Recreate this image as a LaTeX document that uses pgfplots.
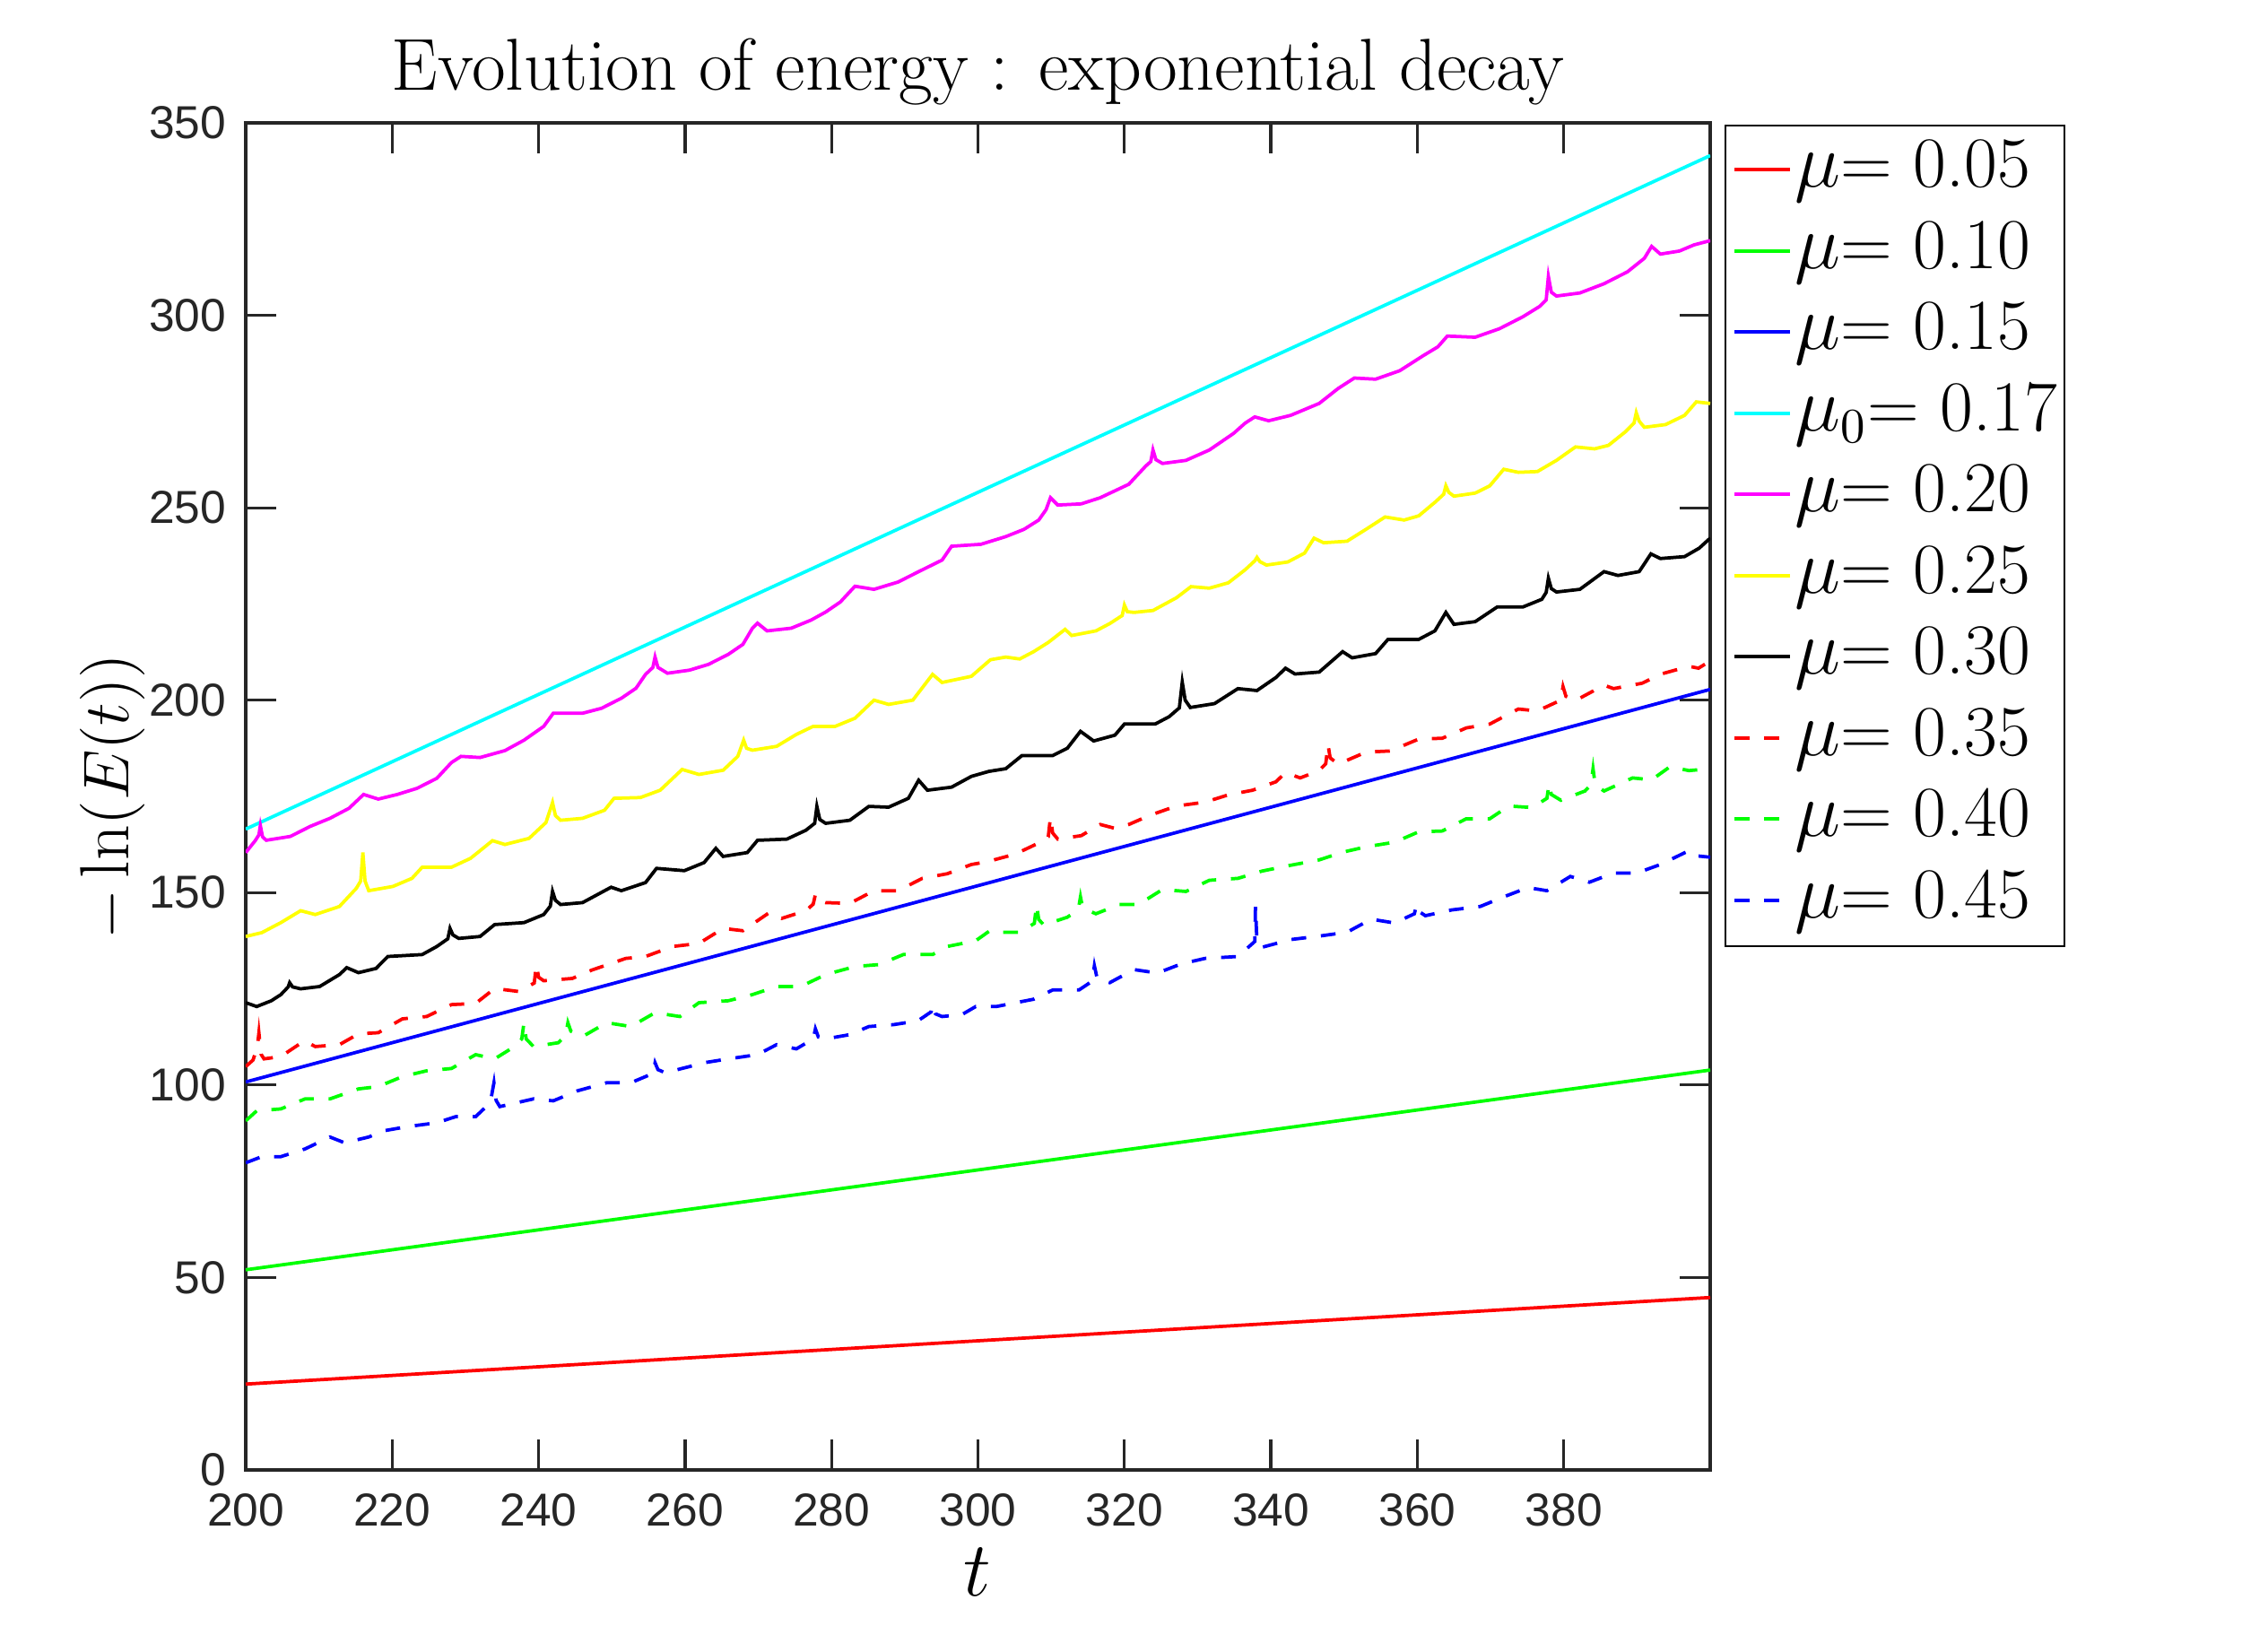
\documentclass[border=0pt]{standalone}
\usepackage{fontspec}
\usepackage{pgfplots}
\pgfplotsset{compat=1.18}
\newfontfamily\tickfont{Liberation Sans}
\definecolor{axgray}{gray}{0.15}
\definecolor{mred}{rgb}{1,0,0}
\definecolor{mgreen}{rgb}{0,1,0}
\definecolor{mblue}{rgb}{0,0,1}
\definecolor{mcyan}{rgb}{0,1,1}
\definecolor{mmagenta}{rgb}{1,0,1}
\definecolor{myellow}{rgb}{1,1,0}
\definecolor{mblack}{rgb}{0,0,0}
\begin{document}
\begin{tikzpicture}
\useasboundingbox (-54.8pt,-40.6pt) rectangle (445.2pt,327.8pt);
\begin{axis}[
  at={(0,0)}, anchor=south west,
  scale only axis, width=326.6pt, height=300.4pt,
  xmin=200, xmax=400, ymin=0, ymax=350,
  xtick={200,220,...,380}, ytick={0,50,...,350},
  tick align=inside, major tick length=6.8pt,
  axis line style={axgray, line width=0.65pt},
  every tick/.style={axgray, line width=0.65pt},
  /pgf/number format/assume math mode=true,
  tick label style={font=\tickfont\fontsize{10.3}{12}\selectfont, text=axgray},
  xticklabel style={anchor=north, inner sep=0pt, yshift=-5.2pt},
  yticklabel style={anchor=east, inner sep=0pt, xshift=-4.2pt},
  title={Evolution of energy : exponential decay},
  title style={font=\fontsize{16.4}{19}\selectfont, at={(axis description cs:0.5,1.0046)}, anchor=base, inner sep=0pt},
  xlabel={$t$},
  xlabel style={font=\fontsize{16}{19}\selectfont, at={(axis description cs:0.4995,-0.0756)}, anchor=center, inner sep=0pt},
  ylabel={$-\ln(E(t))$},
  ylabel style={font=\fontsize{15.5}{18}\selectfont, at={(axis description cs:-0.0912,0.5)}, anchor=center, inner sep=0pt},
  legend style={at={(axis description cs:1,1)}, anchor=north west, xshift=3.2pt, yshift=-0.4pt,
    draw=black, line width=0.4pt, inner xsep=1.7pt, inner ysep=2.3pt,
    font=\fontsize{16}{19}\selectfont, row sep=2.6pt, column sep=0.7pt,
    nodes={inner sep=0pt, text height=11.5pt, text depth=4pt}},
  legend cell align=left,
  legend image code/.code={\draw[#1] (0pt,0.2pt) -- (12.3pt,0.2pt);},
  every axis plot/.append style={line width=0.75pt},
]
\addplot[mred] coordinates {(200,22.3) (400,44.8)};
\addlegendentry{$\mu$= 0.05}
\addplot[mgreen] coordinates {(200,52.0) (400,103.9)};
\addlegendentry{$\mu$= 0.10}
\addplot[mblue] coordinates {(200,100.8) (400,202.8)};
\addlegendentry{$\mu$= 0.15}
\addplot[mcyan] coordinates {(200,166.5) (400,341.5)};
\addlegendentry{$\mu_0$= 0.17}
\addplot[mmagenta] table {
200.0 160.4
201.3 163.5
201.8 165
202.0 167.4
202.3 164.5
202.8 163.6
206.1 164.6
208.8 167.2
211.5 169.3
214.1 171.9
216.1 175.5
218.1 174.3
220.7 175.5
223.4 177.1
226.1 179.7
228.1 183.8
229.4 185.4
232.0 185.1
235.4 186.9
238.0 189.6
240.7 193.2
242.0 196.6
246.0 196.6
248.6 197.9
251.3 200.5
253.3 203.1
254.6 206.7
255.6 208.5
255.9 211.2
256.3 208.5
257.6 207.0
260.6 207.8
263.2 209.3
265.9 211.9
267.9 214.5
269.2 218.7
269.9 220.0
271.2 218.0
274.5 218.7
277.2 220.8
279.2 222.9
281.2 225.5
283.2 229.6
285.8 228.8
289.1 230.7
291.8 233.3
295.1 236.4
296.4 240.0
300.4 240.5
303.8 242.5
306.3 244.4
308.3 246.8
309.3 249.5
309.9 252.6
310.9 250.7
314.1 251.0
316.7 252.6
320.6 256.1
322.9 260.8
323.6 262
323.9 265.0
324.3 262.5
325.2 261.5
328.4 262.3
331.6 265.0
334.9 269.3
336.5 272.0
337.8 273.6
339.7 272.6
342.7 274.0
346.6 277.1
349.2 281.0
351.4 283.7
354.3 283.4
357.6 285.6
360.8 289.5
362.8 291.8
364.1 294.6
367.9 294.3
371.2 296.5
374.4 299.6
376.7 302.3
377.6 304
377.9 310.1
378.3 306
379.0 305.0
382.2 305.8
385.5 308.2
388.7 311.3
391.0 314.8
392.0 317.9
393.2 315.9
395.8 316.7
397.8 318.3
400.0 319.4
};
\addlegendentry{$\mu$= 0.20}
\addplot[myellow] table {
200.0 138.6
202.2 139.6
204.8 142.2
207.5 145.3
209.5 144.3
212.8 146.4
215.1 151.1
215.7 153
216.0 160.4
216.3 153
216.8 150.5
220.1 151.6
222.7 153.7
224.1 156.6
228.1 156.6
230.7 158.9
233.7 163.5
235.4 162.5
238.7 164.1
241.0 168.2
241.9 173.4
242.3 170
243.0 168.8
246.0 169.3
249.0 171.4
250.3 174.5
253.9 174.7
256.6 176.6
259.6 182.0
261.9 180.7
265.2 181.8
267.2 185.4
268.0 189.6
268.4 187.5
269.2 187.0
272.5 188.0
275.2 191.1
277.5 193.2
280.5 193.2
283.2 195.3
285.8 200.0
287.8 198.9
291.1 200.0
293.8 206.7
295.1 204.6
299.1 206.2
301.7 210.5
303.8 211.2
305.7 210.7
307.6 212.6
309.6 215.0
311.9 218.4
312.8 216.8
316.1 218.0
318.0 219.9
319.7 222
320.0 224.7
320.4 223
321.3 222.8
323.9 223.3
327.1 226.6
329.1 229.5
331.6 229.1
334.2 230.5
336.5 233.9
337.8 236.2
338.1 237.1
338.5 236
339.4 235.1
342.3 235.9
344.6 238.2
345.9 242.1
347.2 240.9
350.4 241.3
353.0 244.4
355.6 247.6
358.2 246.8
360.2 247.9
362.4 251.4
363.6 253.5
363.9 255.7
364.3 254
365.0 253.0
367.9 253.8
369.9 255.7
371.8 260.0
373.8 259.2
376.4 259.4
379.0 262.3
381.6 265.8
384.2 265.3
386.1 266.2
388.4 269.7
389.6 272
389.9 274.7
390.3 272.5
391.0 270.9
393.9 271.6
396.5 274.0
398.1 277.5
400.0 277.1
};
\addlegendentry{$\mu$= 0.25}
\addplot[mblack] table {
200.0 121.4
201.5 120.4
203.5 121.9
204.8 123.5
205.8 125.5
206.0 126.6
206.4 125.5
207.5 125.0
210.1 125.6
212.8 128.7
213.8 130.5
215.4 129.2
217.8 130.3
219.4 133.4
224.1 133.9
226.1 136.0
227.6 138
227.9 140.7
228.3 139
229.1 138.1
232.0 138.6
234.0 141.7
238.0 142.2
240.7 144.3
241.6 146.5
241.9 150.3
242.3 148
243.0 146.9
246.0 147.4
249.9 151.4
251.3 150.5
254.6 152.6
256.1 156.3
259.9 155.7
262.6 157.8
264.2 161.5
265.2 159.4
268.5 160.4
269.9 163.6
273.9 163.9
276.5 166.2
277.7 168
278.0 172.4
278.4 169
279.2 168.0
282.5 168.8
285.1 172.4
287.8 172.2
290.5 174.5
291.9 179.2
293.1 176.6
296.4 177.4
299.1 180.2
301.5 181.5
303.8 182.2
306.0 185.6
310.2 185.6
312.2 187.5
314.0 191.9
315.8 189.4
318.7 190.9
320.0 193.8
324.2 193.8
326.1 195.7
327.5 198
327.9 204.7
328.3 200
329.0 198.1
332.3 199.1
335.5 203.0
338.1 202.5
340.7 205.9
342.0 208.3
343.3 206.8
346.6 207.3
349.8 212.6
351.1 211.0
354.3 212.1
356.0 215.8
360.2 215.8
362.4 218.0
363.9 222.8
365.0 219.7
367.9 220.4
370.9 224.2
374.4 224.2
377.0 226.2
377.6 228
377.9 231.7
378.3 229
379.0 228.1
382.2 228.8
385.5 233.4
387.4 232.4
390.3 233.4
391.9 238.0
393.2 236.8
396.5 237.3
398.5 239.5
400.0 242.1
};
\addlegendentry{$\mu$= 0.30}
\addplot[mred, dash pattern=on 3.3pt off 3.3pt] table {
200.0 104.8
201.0 106.5
201.6 110
201.8 113.6
202.1 108
202.5 106.8
204.8 107.4
208.0 111.5
209.5 110.0
212.8 110.5
215.4 113.3
218.1 113.6
221.4 117.2
224.7 117.8
228.1 120.9
231.4 121.2
234.0 125.1
237.3 124.3
239.4 126.5
239.7 131.3
240.0 128
240.7 127.1
244.6 127.7
247.3 129.9
251.9 132.9
254.6 133.4
258.3 136.0
261.9 136.8
265.2 140.7
267.9 140.1
271.5 144.8
273.2 143.3
276.5 145.3
277.5 147
277.8 149.5
278.2 148
279.2 147.4
282.5 147.2
285.8 150.5
289.1 150.5
292.4 153.7
295.8 154.9
299.1 157.3
301.2 158.0
305.1 160.0
308.3 162.9
309.6 164.5
309.9 169.6
310.2 165.5
310.9 163.9
314.1 164.8
316.7 167.7
318.7 166.7
320.6 167.7
323.5 170.1
327.1 172.5
331.0 173.5
334.2 175.4
337.5 176.6
340.7 178.8
342.0 181.2
344.0 179.8
346.6 181.7
347.5 183.5
347.8 188.5
348.1 185
349.2 183.4
353.0 186.5
356.3 186.8
360.2 189.9
363.4 190.1
366.7 192.8
369.9 193.8
373.8 197.7
376.4 197.2
379.6 200
379.9 203.5
380.3 201
381.6 199.9
385.5 203.9
386.8 203.0
390.7 204.4
393.3 206.8
397.1 208.8
398.4 208.3
400.0 210.2
};
\addlegendentry{$\mu$= 0.35}
\addplot[mgreen, dash pattern=on 3.3pt off 3.3pt] table {
200.0 90.7
201.5 93.3
204.8 93.8
208.1 96.4
211.5 96.4
215.4 99.0
218.1 99.6
221.4 102.2
224.7 103.7
228.1 104.3
231.4 107.9
234.0 106.8
236.7 110.0
237.7 112
238.0 116.2
238.3 112
239.3 110.0
242.7 111.0
243.7 113
244.0 116.2
244.4 114
246.0 112.6
249.3 116.2
252.6 115.2
255.9 118.8
259.3 117.8
261.9 121.4
265.9 121.9
269.2 123.5
272.5 125.6
275.8 125.6
279.2 128.7
283.2 130.8
286.5 131.3
289.8 133.9
293.8 133.9
295.8 136.0
299.7 137.5
301.7 140.2
303.1 139.7
305.7 139.7
307.7 142
308.0 146.9
308.3 143
309.0 141.6
312.2 143.6
313.7 145.5
314.0 148.9
314.3 146
316.1 144.5
319.3 146.9
321.9 146.9
325.2 150.8
328.4 150.3
331.6 153.2
335.5 153.7
338.8 155.6
342.7 157.1
346.6 158.5
349.8 160.5
353.0 161.9
356.9 163.1
360.2 165.8
363.4 166.0
366.7 169.2
369.9 169.2
372.5 172.5
375.7 172.1
377.7 174.5
378.0 178.3
378.3 175.5
379.6 174.0
382.9 176.4
383.7 178
384.0 182.2
384.3 178
385.5 176.4
389.4 179.8
392.0 179.3
394.5 182.7
397.1 181.7
400.0 182.2
};
\addlegendentry{$\mu$= 0.40}
\addplot[mblue, dash pattern=on 3.3pt off 3.3pt] table {
200.0 79.8
202.2 81.4
204.8 81.4
208.1 83.4
211.5 86.5
213.5 85.0
216.8 86.5
218.8 88.1
222.1 89.2
226.1 90.2
228.7 91.8
231.4 91.8
233.4 95.4
233.9 100.6
234.2 96
234.7 94.4
239.3 96.4
242.0 95.9
245.3 98.5
249.3 100.6
252.6 100.6
255.6 103
255.9 105.8
256.3 104
257.3 103.2
260.6 104.8
262.6 105.8
265.9 106.8
269.9 107.9
272.5 110.5
275.2 109.4
277.5 112
277.8 114.6
278.2 112.5
279.2 112.0
282.5 113.1
285.1 115.2
288.5 115.7
291.8 116.7
293.6 119
293.8 120.9
294.2 118.5
295.1 117.8
297.8 118.3
299.7 120.4
302.5 120.4
307.6 122.3
310.2 124.7
313.8 124.7
315.6 127
315.9 131.0
316.3 127.5
318.0 126.6
321.3 130.0
324.5 129.1
327.8 131.5
331.0 132.9
335.5 133.4
337.8 137.3
337.9 146.4
338.1 137
338.8 135.8
342.7 137.8
346.6 138.7
350.4 139.7
353.7 143.1
356.9 142.1
359.6 144.5
359.9 146.9
360.3 145
361.1 144.0
364.7 145.5
368.6 146.4
371.8 148.9
375.1 151.3
377.7 150.5
380.9 154.2
383.5 152.7
386.8 155.1
390.0 155.1
393.2 157.3
397.1 160.9
398.4 159.5
400.0 159.2
};
\addlegendentry{$\mu$= 0.45}
\end{axis}
\end{tikzpicture}
\end{document}
